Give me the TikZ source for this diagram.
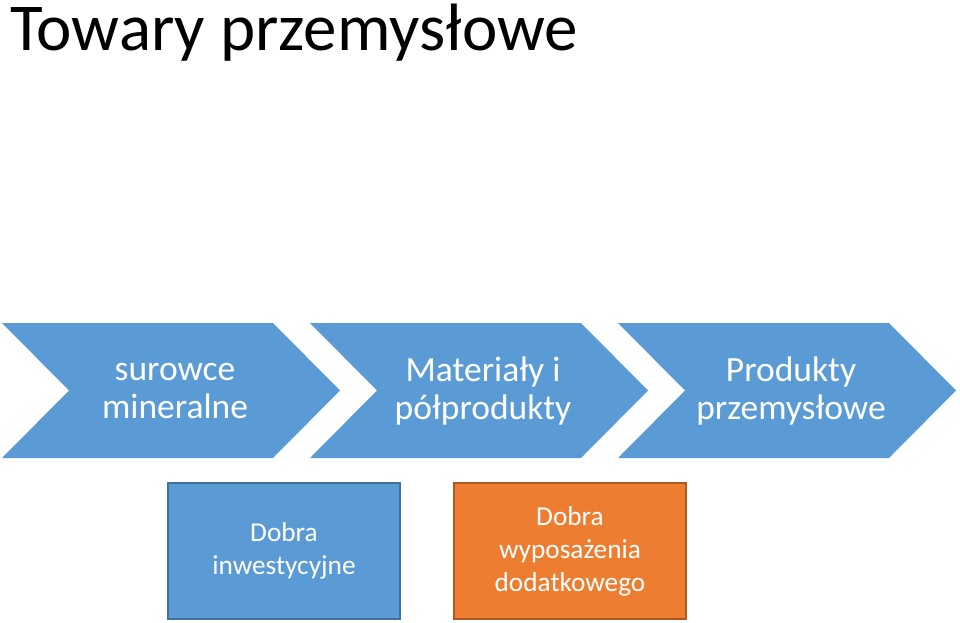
\documentclass[tikz,border=0pt]{standalone}
\usepackage{fontspec}
\setmainfont{Carlito}
\usepackage{tikz}

\definecolor{arrowblue}{HTML}{5B9BD5}
\definecolor{blueedge}{HTML}{41719C}
\definecolor{boxorange}{HTML}{ED7D31}
\definecolor{orangeedge}{HTML}{AE5A21}

\begin{document}
\begin{tikzpicture}[x=1pt, y=-1pt,
    every node/.style={text=white, align=center, font=\fontsize{35.5}{38.5}\selectfont},
    goodsbox/.style={draw, line width=1.2pt, minimum width=232pt, minimum height=136pt,
        font=\fontsize{27.3}{33}\selectfont}]
            \useasboundingbox (0,0) rectangle (960,622);
            \draw
                (10,50) node[anchor=base west, inner sep=0pt, text=black, font=\fontsize{67}{72}\selectfont] (title) {Towary przemysłowe};
            % chevrons
            \fill[arrowblue]
                (2,323) -- (273,323) -- (340,390.5) -- (273,458) -- (2,458) -- (69,390.5) -- cycle;
            \fill[arrowblue]
                (310,323) -- (581,323) -- (648,390.5) -- (581,458) -- (310,458) -- (377,390.5) -- cycle;
            \fill[arrowblue]
                (618,323) -- (889,323) -- (956,390.5) -- (889,458) -- (618,458) -- (685,390.5) -- cycle;
            \draw
                (175,391) node (surowce) {surowce\\mineralne};
            \draw
                (483,391) node (materialy) {Materiały i\\półprodukty};
            \draw
                (791,391) node (produkty) {Produkty\\przemysłowe};
            % goods
            \draw
                (284,551) node[goodsbox, draw=blueedge, fill=arrowblue] (inwestycyjne) {Dobra\\inwestycyjne};
            \draw
                (570,551) node[goodsbox, draw=orangeedge, fill=boxorange] (wyposazenie) {Dobra\\wyposażenia\\dodatkowego};
        \end{tikzpicture}
\end{document}
